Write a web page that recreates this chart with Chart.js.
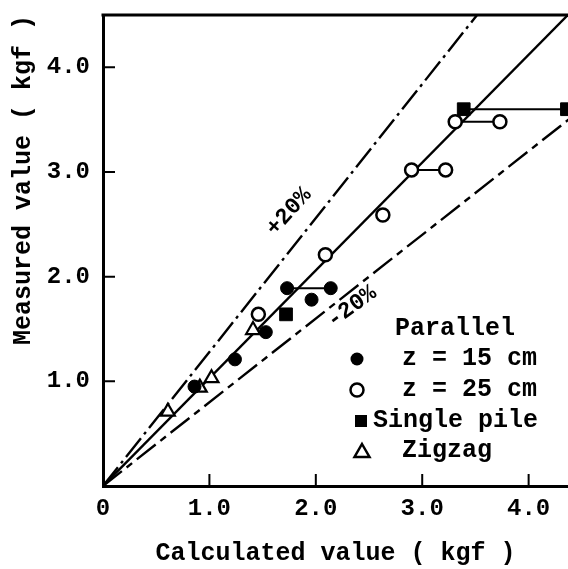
<!DOCTYPE html>
<html>
<head>
<meta charset="utf-8">
<script src="https://cdn.jsdelivr.net/npm/chart.js@4.4.0/dist/chart.umd.min.js"></script>
<style>
    html, body { margin: 0; padding: 0; background: #fff; overflow: hidden; }
    canvas { display: block; }
</style>
</head>
<body>
<canvas id="chart" width="568" height="569"></canvas>
<script>
// Axis ticks
const xTicks = [0, 1, 2, 3, 4];
const yTicks = [1, 2, 3, 4];

// Parallel, z = 15 cm (filled circles)
const z15X = [0.86, 1.24, 1.53, 1.73, 2.14, 1.96];
const z15Y = [0.95, 1.21, 1.47, 1.89, 1.89, 1.78];
const z15Links = [[3, 4]];

// Parallel, z = 25 cm (open circles)
const z25X = [1.46, 2.09, 2.63, 2.90, 3.22, 3.31, 3.73];
const z25Y = [1.64, 2.21, 2.59, 3.02, 3.02, 3.48, 3.48];
const z25Links = [[3, 4], [5, 6]];

// Single pile (filled squares)
const singleX = [1.72, 3.39, 4.36];
const singleY = [1.64, 3.60, 3.60];
const singleLinks = [[1, 2]];

// Zigzag (open triangles)
const zigzagX = [0.61, 0.91, 1.02, 1.41];
const zigzagY = [0.71, 0.94, 1.03, 1.49];

// Reference lines through the origin: 1:1, +20%, -20%
const refSlopes = [1.03, 1.28, 0.80];
const refLabels = ['', '+20%', '-20%'];
const refLabelX = [0, 1.75, 2.34];
const refLabelY = [0, 2.62, 1.71];

const FONT = '"Liberation Mono", "DejaVu Sans Mono", monospace';

function points(xs, ys) {
    return xs.map((x, i) => ({ x: x, y: ys[i] }));
}

function linkSets(xs, ys, links) {
    return links.map(pair => ({
        type: 'line',
        data: pair.map(i => ({ x: xs[i], y: ys[i] })),
        borderColor: '#000',
        borderWidth: 2,
        pointRadius: 0,
        fill: false,
        order: 1
    }));
}

const refDashes = [[], [24, 5, 3, 5], [24, 6, 7, 6]];
const refSets = refSlopes.map((s, i) => ({
    type: 'line',
    data: [{ x: 0, y: 0 }, { x: 5, y: 5 * s }],
    borderColor: '#000',
    borderWidth: 2.4,
    borderDash: refDashes[i],
    pointRadius: 0,
    fill: false,
    order: 2
}));

const datasets = [
    {
        label: 'z = 15 cm',
        data: points(z15X, z15Y),
        pointStyle: 'circle',
        pointRadius: 6.5,
        backgroundColor: '#000',
        borderColor: '#000',
        borderWidth: 1,
        order: 0
    },
    {
        label: 'z = 25 cm',
        data: points(z25X, z25Y),
        pointStyle: 'circle',
        pointRadius: 6.5,
        backgroundColor: '#fff',
        borderColor: '#000',
        borderWidth: 2.5,
        order: 0
    },
    {
        label: 'Single pile',
        data: points(singleX, singleY),
        pointStyle: 'rect',
        pointRadius: 9,
        backgroundColor: '#000',
        borderColor: '#000',
        borderWidth: 1,
        order: 0
    },
    {
        label: 'Zigzag',
        data: points(zigzagX, zigzagY),
        pointStyle: 'triangle',
        pointRadius: 8,
        backgroundColor: '#fff',
        borderColor: '#000',
        borderWidth: 2.2,
        order: 0
    },
    ...linkSets(z15X, z15Y, z15Links),
    ...linkSets(z25X, z25Y, z25Links),
    ...linkSets(singleX, singleY, singleLinks),
    ...refSets
];

// Top frame line and inward tick marks
const framePlugin = {
    id: 'frame',
    afterDraw(chart) {
        const { ctx, chartArea, scales } = chart;
        ctx.save();
        ctx.strokeStyle = '#000';
        ctx.lineWidth = 3;
        ctx.beginPath();
        ctx.moveTo(chartArea.left - 1.5, chartArea.top);
        ctx.lineTo(chartArea.right, chartArea.top);
        ctx.stroke();

        ctx.lineWidth = 2;
        ctx.beginPath();
        xTicks.filter(v => v > 0).forEach(v => {
            const px = scales.x.getPixelForValue(v);
            ctx.moveTo(px, chartArea.bottom);
            ctx.lineTo(px, chartArea.bottom - 12);
        });
        yTicks.forEach(v => {
            const py = scales.y.getPixelForValue(v);
            ctx.moveTo(chartArea.left, py);
            ctx.lineTo(chartArea.left + 12, py);
        });
        ctx.stroke();
        ctx.restore();
    }
};

// Rotated +20% / -20% labels
const refAngles = [0, -48, -36];
const labelPlugin = {
    id: 'refLabels',
    afterDatasetsDraw(chart) {
        const { ctx, scales } = chart;
        ctx.save();
        ctx.fillStyle = '#000';
        ctx.font = 'bold 23px ' + FONT;
        ctx.textAlign = 'center';
        ctx.textBaseline = 'middle';
        refLabels.forEach((t, i) => {
            if (!t) return;
            const px = scales.x.getPixelForValue(refLabelX[i]);
            const py = scales.y.getPixelForValue(refLabelY[i]);
            ctx.save();
            ctx.translate(px, py);
            ctx.rotate(refAngles[i] * Math.PI / 180);
            // white halo so the dashed line breaks around the text
            ctx.fillStyle = '#fff';
            const w = ctx.measureText(t).width;
            ctx.fillRect(-w / 2 - 2, -9, w + 4, 18);
            ctx.fillStyle = '#000';
            ctx.fillText(t, 0, 0);
            ctx.restore();
        });
        ctx.restore();
    }
};

// Legend inside the plot area
function marker(ctx, style, x, y) {
    ctx.beginPath();
    ctx.lineWidth = 2.5;
    if (style === 'filled') {
        ctx.arc(x, y, 6.5, 0, Math.PI * 2);
        ctx.fill();
    } else if (style === 'open') {
        ctx.arc(x, y, 6.5, 0, Math.PI * 2);
        ctx.stroke();
    } else if (style === 'square') {
        ctx.fillRect(x - 6, y - 6, 12, 12);
    } else if (style === 'triangle') {
        ctx.moveTo(x, y - 7);
        ctx.lineTo(x + 7.5, y + 6);
        ctx.lineTo(x - 7.5, y + 6);
        ctx.closePath();
        ctx.stroke();
    }
}

const legendPlugin = {
    id: 'insideLegend',
    afterDraw(chart) {
        const ctx = chart.ctx;
        ctx.save();
        ctx.fillStyle = '#000';
        ctx.strokeStyle = '#000';
        ctx.font = 'bold 25px ' + FONT;
        ctx.textAlign = 'left';
        ctx.textBaseline = 'middle';
        ctx.fillText('Parallel', 395, 329);
        const rows = [
            ['filled', 357, 359, 'z = 15 cm', 402],
            ['open', 357, 390, 'z = 25 cm', 402],
            ['square', 361, 421, 'Single pile', 373],
            ['triangle', 362, 451, 'Zigzag', 402]
        ];
        rows.forEach(r => {
            marker(ctx, r[0], r[1], r[2]);
            ctx.fillText(r[3], r[4], r[2]);
        });
        ctx.restore();
    }
};

new Chart(document.getElementById('chart'), {
    type: 'scatter',
    data: { datasets: datasets },
    options: {
        responsive: false,
        animation: false,
        layout: { padding: 0, autoPadding: false },
        plugins: {
            legend: { display: false },
            tooltip: { enabled: false }
        },
        scales: {
            x: {
                type: 'linear',
                min: 0,
                max: 4.37,
                afterBuildTicks: s => { s.ticks = xTicks.map(v => ({ value: v })); },
                afterFit: s => {
                    s.height = 83;
                    s.paddingLeft = 0;
                    s.paddingRight = 0;
                },
                grid: { display: false, drawTicks: false },
                border: { display: true, width: 3, color: '#000' },
                ticks: {
                    color: '#000',
                    padding: 9,
                    maxRotation: 0,
                    autoSkip: false,
                    font: { family: FONT, size: 24, weight: 'bold' },
                    callback: v => v === 0 ? '0' : v.toFixed(1)
                },
                title: {
                    display: true,
                    text: 'Calculated value ( kgf )',
                    color: '#000',
                    font: { family: FONT, size: 25, weight: 'bold' },
                    padding: { top: 0, bottom: 0 }
                }
            },
            y: {
                type: 'linear',
                min: 0,
                max: 4.5,
                afterBuildTicks: s => { s.ticks = yTicks.map(v => ({ value: v })); },
                afterFit: s => {
                    s.width = 103;
                    s.paddingTop = 15;
                    s.paddingBottom = 0;
                },
                grid: { display: false, drawTicks: false },
                border: { display: true, width: 3, color: '#000' },
                ticks: {
                    color: '#000',
                    padding: 13,
                    font: { family: FONT, size: 24, weight: 'bold' },
                    callback: v => v.toFixed(1)
                },
                title: {
                    display: true,
                    text: 'Measured value ( kgf )',
                    align: 'end',
                    color: '#000',
                    font: { family: FONT, size: 25, weight: 'bold' },
                    padding: { top: 9, bottom: 0 }
                }
            }
        }
    },
    plugins: [framePlugin, labelPlugin, legendPlugin]
});
</script>
</body>
</html>
